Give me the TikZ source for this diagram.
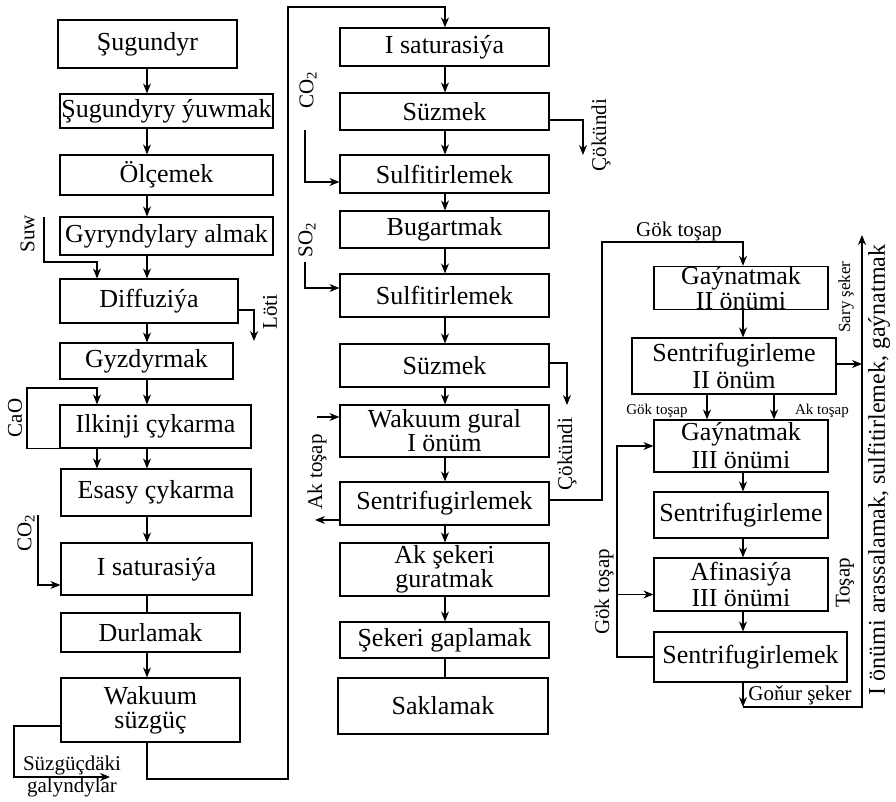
\documentclass[tikz,border=0pt]{standalone}
\usepackage{fontspec}
\setmainfont{Liberation Serif}
\usetikzlibrary{arrows.meta}

\begin{document}
\begin{tikzpicture}[x=0.5pt,y=0.5pt,yscale=-1,xscale=1,line width=0.6pt,
  procbox/.style={draw, inner sep=0pt, align=center, font=\fontsize{13}{12}\selectfont},
  arr/.style={-{Stealth[length=5pt,width=4pt]}},
  lbl/.style={font=\fontsize{10.5}{11}\selectfont, inner sep=0pt, align=center},
  smalllbl/.style={font=\fontsize{7.5}{8}\selectfont, inner sep=0pt}]
\useasboundingbox (0,0) rectangle (896,802);

% column lines
\coordinate (lx) at (147,0);
\coordinate (lx2) at (97,0);
\coordinate (mx) at (445,0);
\coordinate (rx) at (743,0);
\coordinate (rx2) at (707,0);
\coordinate (rx3) at (774,0);
\coordinate (vx) at (862,0);

%Shape: Rectangle, left column
\draw (147.5,44) node [procbox, minimum width=89.5pt, minimum height=24pt] (sug) {Şugundyr};
\draw (166.5,111) node [procbox, minimum width=106.5pt, minimum height=17pt] (yuw) {Şugundyry ýuwmak};
\draw (166.5,175) node [procbox, minimum width=106.5pt, minimum height=20pt] (olc) {Ölçemek};
\draw (166.5,236) node [procbox, minimum width=106.5pt, minimum height=19pt] (gyr) {Gyryndylary almak};
\draw (149,301) node [procbox, minimum width=89pt, minimum height=22pt] (dif) {Diffuziýa};
\draw (146.5,361) node [procbox, minimum width=86.5pt, minimum height=18pt] (gyz) {Gyzdyrmak};
\draw (155.5,426.5) node [procbox, minimum width=95.5pt, minimum height=21.5pt] (ilk) {Ilkinji çykarma};
\draw (156,492.5) node [procbox, minimum width=95pt, minimum height=23.5pt] (esa) {Esasy çykarma};
\draw (156.5,569) node [procbox, minimum width=95.5pt, minimum height=26pt] (sat1) {I saturasiýa};
\draw (150.5,632.5) node [procbox, minimum width=89.5pt, minimum height=19.5pt] (dur) {Durlamak};
\draw (150.5,710) node [procbox, minimum width=89.5pt, minimum height=32pt] (wak) {Wakuum\\süzgüç};

%Shape: Rectangle, middle column
\draw (444.5,47) node [procbox, minimum width=104.5pt, minimum height=19pt] (sat2) {I saturasiýa};
\draw (444.5,111.5) node [procbox, minimum width=104.5pt, minimum height=18.5pt] (suz1) {Süzmek};
\draw (444.5,174) node [procbox, minimum width=104.5pt, minimum height=19pt] (sul1) {Sulfitirlemek};
\draw (444.5,229.5) node [procbox, minimum width=104.5pt, minimum height=18.5pt] (bug) {Bugartmak};
\draw (444.5,295.5) node [procbox, minimum width=104.5pt, minimum height=21.5pt] (sul2) {Sulfitirlemek};
\draw (444.5,365.5) node [procbox, minimum width=104.5pt, minimum height=21.5pt] (suz2) {Süzmek};
\draw (444.5,431) node [procbox, minimum width=104.5pt, minimum height=26pt] (wgu) {Wakuum gural\\I önüm};
\draw (444.5,503.5) node [procbox, minimum width=104.5pt, minimum height=21.5pt] (sen1) {Sentrifugirlemek};
\draw (444.5,569.5) node [procbox, minimum width=104.5pt, minimum height=26.5pt] (aks) {Ak şekeri\\guratmak};
\draw (444.5,640) node [procbox, minimum width=104.5pt, minimum height=18pt] (gap) {Şekeri gaplamak};
\draw (443,706) node [procbox, minimum width=105pt, minimum height=28pt] (sak) {Saklamak};

%Shape: Rectangle, right column
\draw (741,288) node [procbox, minimum width=87pt, minimum height=21pt, font=\fontsize{13}{9.7}\selectfont] (gay2) {Gaýnatmak\\II önümi};
\draw (734,366) node [procbox, minimum width=102pt, minimum height=28pt, font=\fontsize{13}{13.5}\selectfont] (sen2) {Sentrifugirleme\\II önüm};
\draw (741,446) node [procbox, minimum width=87pt, minimum height=26pt, font=\fontsize{13}{14}\selectfont] (gay3) {Gaýnatmak\\III önümi};
\draw (741,515) node [procbox, minimum width=87pt, minimum height=23pt] (sen3) {Sentrifugirleme};
\draw (741,584.5) node [procbox, minimum width=87pt, minimum height=26.5pt, font=\fontsize{13}{13}\selectfont] (afi) {Afinasiýa\\III önümi};
\draw (750.5,657) node [procbox, minimum width=96.5pt, minimum height=25pt] (sen4) {Sentrifugirlemek};

%Straight Lines, left column
\draw [arr] (sug.south -| lx) -- (yuw.north -| lx);
\draw [arr] (yuw.south -| lx) -- (olc.north -| lx);
\draw [arr] (olc.south -| lx) -- (gyr.north -| lx);
\draw [arr] (gyr.south -| lx) -- (dif.north -| lx);
\coordinate (suw0) at (44,217);
\coordinate (suwk) at (97,262);
\draw [arr] (suw0) |- (suwk) -- (dif.north -| suwk);
\coordinate (loti) at (254,341);
\draw [arr] ([yshift=4.5pt]dif.east) -| (loti);
\draw [arr] (dif.south -| lx) -- (gyz.north -| lx);
\draw [arr] (gyz.south -| lx) -- (ilk.north -| lx);
\coordinate (cao) at (27,388);
\draw [arr] (ilk.south west) -| (cao) -| (ilk.north -| lx2);
\draw [arr] (ilk.south -| lx) -- (esa.north -| lx);
\draw [arr] (ilk.south -| lx2) -- (esa.north -| lx2);
\draw [arr] (esa.south -| lx) -- (sat1.north -| lx);
\coordinate (co2l) at (38,515);
\draw [arr] (co2l) |- ([yshift=8pt]sat1.west);
\draw (sat1.south -| lx) -- (dur.north -| lx);
\draw [arr] (dur.south -| lx) -- (wak.north -| lx);
\coordinate (szk) at (14,777);
\coordinate (szg) at (110,777);
\draw [arr] ([yshift=8pt]wak.west) -| (szk) -- (szg);
\coordinate (m1) at (288,779);
\coordinate (m2) at (445,7);
\draw [arr] (wak.south -| lx) |- (m1) |- (m2) -- (sat2.north -| mx);

%Straight Lines, middle column
\draw [arr] (sat2.south -| mx) -- (suz1.north -| mx);
\draw [arr] (suz1.south -| mx) -- (sul1.north -| mx);
\draw [arr] (sul1.south -| mx) -- (bug.north -| mx);
\draw [arr] (bug.south -| mx) -- (sul2.north -| mx);
\draw [arr] (sul2.south -| mx) -- (suz2.north -| mx);
\draw [arr] (suz2.south -| mx) -- (wgu.north -| mx);
\draw [arr] (wgu.south -| mx) -- (sen1.north -| mx);
\draw [arr] (sen1.south -| mx) -- (aks.north -| mx);
\draw [arr] (aks.south -| mx) -- (gap.north -| mx);
\draw (gap.south -| mx) -- (sak.north -| mx);
\coordinate (cok1) at (583,155);
\draw [arr] ([yshift=4.25pt]suz1.east) -| (cok1);
\coordinate (co2m) at (305,130);
\draw [arr] (co2m) |- ([yshift=4pt]sul1.west);
\coordinate (so2) at (305,262);
\draw [arr] (so2) |- ([yshift=-3.75pt]sul2.west);
\coordinate (cok2) at (567,405);
\draw [arr] ([yshift=-1.25pt]suz2.east) -| (cok2);
\coordinate (akin) at (317,417);
\draw [arr] (akin) -- (wgu.west |- akin);
\coordinate (akout) at (315,520);
\draw [arr] (sen1.west |- akout) -- (akout);
\coordinate (gk1) at (602,242);
\draw [arr] ([yshift=-1.75pt]sen1.east) -| (gk1) -| (gay2.north -| rx);

%Straight Lines, right column
\draw [arr] (gay2.south -| rx) -- (sen2.north -| rx);
\draw [arr] (sen2.south -| rx2) -- (gay3.north -| rx2);
\draw [arr] (sen2.south -| rx3) -- (gay3.north -| rx3);
\draw [arr] (gay3.south -| rx) -- (sen3.north -| rx);
\draw [arr] (sen3.south -| rx) -- (afi.north -| rx);
\draw [arr] (afi.south -| rx) -- (sen4.north -| rx);
\draw [arr] ([yshift=-1pt]sen2.east) -- ([yshift=-1pt]sen2.east -| vx);
\coordinate (gon) at (743,707);
\coordinate (top) at (862,235);
\draw [arr] (sen4.south -| rx) -- (gon);
\draw [arr] (gon) -| (top);
\coordinate (gtk) at (617,446);
\coordinate (afk) at ([yshift=5pt]afi.west);
\draw [arr] (sen4.west) -| (gtk) -- (gay3.west);
\draw [arr] (gtk |- afk) -- (afk);

% Text Node
\draw (27.5,234) node [lbl, rotate=90] (tsuw) {Suw};
% Text Node
\draw (270,312) node [lbl, rotate=90] (tloti) {Löti};
% Text Node
\draw (15,418) node [lbl, rotate=90] (tcao) {CaO};
% Text Node
\draw (26,533) node [lbl, rotate=90] (tco2l) {CO\textsubscript{2}};
% Text Node
\draw (72,776) node [lbl] (tszg) {Süzgüçdäki\\galyndylar};
% Text Node
\draw (308,90) node [lbl, rotate=90] (tco2m) {CO\textsubscript{2}};
% Text Node
\draw (307,240) node [lbl, rotate=90] (tso2) {SO\textsubscript{2}};
% Text Node
\draw (601,135) node [lbl, rotate=90] (tcok1) {Çökündi};
% Text Node
\draw (567,454) node [lbl, rotate=90] (tcok2) {Çökündi};
% Text Node
\draw (317,472) node [lbl, rotate=90] (tak) {Ak toşap};
% Text Node
\draw (679,231) node [lbl] (tgok1) {Gök toşap};
% Text Node
\draw (657,411) node [smalllbl] (tgok2) {Gök toşap};
% Text Node
\draw (822,411) node [smalllbl] (tak2) {Ak toşap};
% Text Node
\draw (604,592) node [lbl, rotate=90] (tgok3) {Gök toşap};
% Text Node
\draw (846,297) node [lbl, rotate=90, font=\fontsize{8.5}{9}\selectfont] (tsary) {Sary şeker};
% Text Node
\draw (845,583) node [lbl, rotate=90] (ttosap) {Toşap};
% Text Node
\draw (800,695) node [lbl] (tgon) {Goňur şeker};
% Text Node
\draw (879,470) node [lbl, rotate=90, font=\fontsize{12}{13}\selectfont] (tarassa) {I önümi arassalamak, sulfitirlemek, gaýnatmak};

\end{tikzpicture}
\end{document}
